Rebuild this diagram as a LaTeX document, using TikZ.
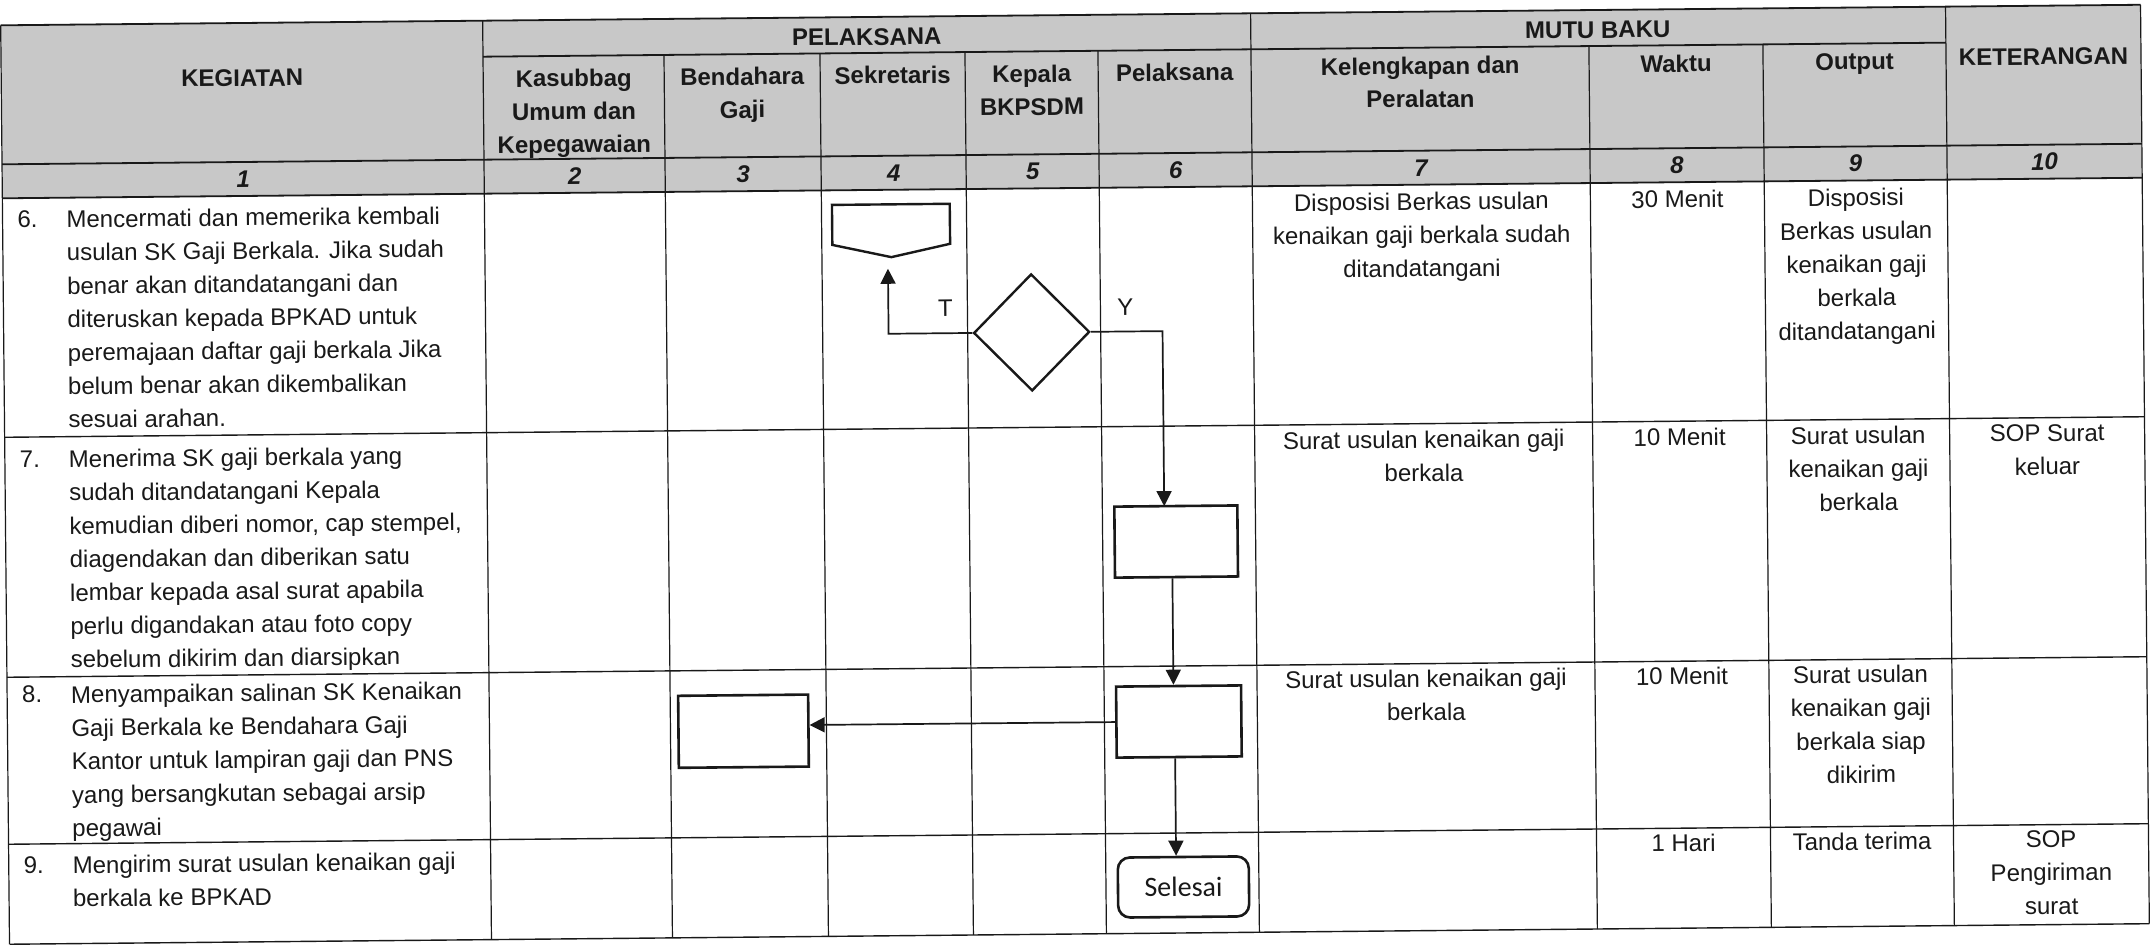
\documentclass[tikz,border=0pt]{standalone}
\usepackage{fontspec}
\setmainfont{Liberation Sans}
\newfontfamily\calib{Carlito}
\usetikzlibrary{arrows.meta,shapes.geometric,calc}
\definecolor{hdr}{RGB}{200,200,200}
\definecolor{ink}{RGB}{25,25,25}
\begin{document}
\begin{tikzpicture}[x=0.5pt,y=-0.5pt,
  hline/.style={line width=0.9pt, draw=ink},
  bline/.style={line width=0.7pt, draw=ink},
  vline/.style={line width=0.6pt, draw=ink},
  body/.style={font=\fontsize{12}{16.7}\selectfont, text=ink, inner sep=0pt, outer sep=0pt},
  lcell/.style={body, align=left, anchor=north west},
  ccell/.style={body, align=center, anchor=north},
  hcell/.style={font=\bfseries\fontsize{12}{16.5}\selectfont, text=ink, inner sep=0pt, align=center},
  numcell/.style={font=\bfseries\itshape\fontsize{12}{14}\selectfont, text=ink, inner sep=0pt},
  proc/.style={draw=ink, line width=1.3pt, fill=white, inner sep=0pt},
  flow/.style={line width=0.85pt, draw=ink, -{Triangle[width=7.5pt,length=7.5pt]}},
]
\fill[white] (0,0) rectangle (2150,948);
\useasboundingbox (0,0) rectangle (2150,948);
\begin{scope}[rotate around={0.55:(1075,474)}, transform shape]
% header background
\fill[hdr] (5,15) rectangle (2145,188);
% horizontal lines
\draw[hline] (5,15) -- (2145,15);
\draw[hline] (487,51) -- (1950,51);
\draw[hline] (5,154) -- (2145,154);
\draw[hline] (5,188) -- (2145,188);
\draw[bline] (5,427) -- (2145,427);
\draw[bline] (5,667) -- (2145,667);
\draw[bline] (5,834) -- (2145,834);
\draw[bline] (5,934) -- (2145,934);
% vertical lines
\foreach \x in {5,487,1255,1950,2145} \draw[vline] (\x,15) -- (\x,934);
\foreach \x in {668,824,969,1102,1593,1767} \draw[vline] (\x,51) -- (\x,934);

% header texts
\node[hcell] (hkeg) at (246,70) {KEGIATAN};
\node[hcell] (hpel) at (871,35) {PELAKSANA};
\node[hcell] (hmutu) at (1602,35) {MUTU BAKU};
\node[hcell, anchor=north] (hkas) at (577.5,64) {Kasubbag\\Umum dan\\Kepegawaian};
\node[hcell, anchor=north] (hben) at (746,64) {Bendahara\\Gaji};
\node[hcell, anchor=north] (hsek) at (896.5,64) {Sekretaris};
\node[hcell, anchor=north] (hkep) at (1035.5,64) {Kepala\\BKPSDM};
\node[hcell, anchor=north] (hpls) at (1178.5,64) {Pelaksana};
\node[hcell, anchor=north] (hkel) at (1424,60) {Kelengkapan dan\\Peralatan};
\node[hcell, anchor=north] (hwak) at (1680,60) {Waktu};
\node[hcell, anchor=north] (hout) at (1858.5,60) {Output};
\node[hcell] (hket) at (2047.5,66) {KETERANGAN};

% column numbers
\node[numcell] (c1) at (246,171) {1};
\node[numcell] (c2) at (577.5,171) {2};
\node[numcell] (c3) at (746,171) {3};
\node[numcell] (c4) at (896.5,171) {4};
\node[numcell] (c5) at (1035.5,171) {5};
\node[numcell] (c6) at (1178.5,171) {6};
\node[numcell] (c7) at (1424,171) {7};
\node[numcell] (c8) at (1680,171) {8};
\node[numcell] (c9) at (1858.5,171) {9};
\node[numcell] (c10) at (2047.5,171) {10};

% column 1 texts
\node[lcell] (k6n) at (20,200.5) {6.};
\node[lcell] (k6) at (69,200.5) {Mencermati dan memerika kembali\\usulan SK Gaji Berkala. Jika sudah\\benar akan ditandatangani dan\\diteruskan kepada BPKAD untuk\\peremajaan daftar gaji berkala Jika\\belum benar akan dikembalikan\\sesuai arahan.};
\node[lcell] (k7n) at (20,440.5) {7.};
\node[lcell] (k7) at (69,440.5) {Menerima SK gaji berkala yang\\sudah ditandatangani Kepala\\kemudian diberi nomor, cap stempel,\\diagendakan dan diberikan satu\\lembar kepada asal surat apabila\\perlu digandakan atau foto copy\\sebelum dikirim dan diarsipkan};
\node[lcell] (k8n) at (20,676) {8.};
\node[lcell] (k8) at (69,676) {Menyampaikan salinan SK Kenaikan\\Gaji Berkala ke Bendahara Gaji\\Kantor untuk lampiran gaji dan PNS\\yang bersangkutan sebagai arsip\\pegawai};
\node[lcell] (k9n) at (20,846.5) {9.};
\node[lcell] (k9) at (69,846.5) {Mengirim surat usulan kenaikan gaji\\berkala ke BPKAD};

% columns 7-10 texts
\node[ccell] (r6c7) at (1424,196) {Disposisi Berkas usulan\\kenaikan gaji berkala sudah\\ditandatangani};
\node[ccell] (r6c8) at (1680,196) {30 Menit};
\node[ccell] (r6c9) at (1858.5,196) {Disposisi\\Berkas usulan\\kenaikan gaji\\berkala\\ditandatangani};
\node[ccell] (r7c7) at (1424,434) {Surat usulan kenaikan gaji\\berkala};
\node[ccell] (r7c8) at (1680,434) {10 Menit};
\node[ccell] (r7c9) at (1858.5,434) {Surat usulan\\kenaikan gaji\\berkala};
\node[ccell] (r7c10) at (2047.5,434) {SOP Surat\\keluar};
\node[ccell] (r8c7) at (1424,673) {Surat usulan kenaikan gaji\\berkala};
\node[ccell] (r8c8) at (1680,673) {10 Menit};
\node[ccell] (r8c9) at (1858.5,673) {Surat usulan\\kenaikan gaji\\berkala siap\\dikirim};
\node[ccell] (r9c8) at (1680,840) {1 Hari};
\node[ccell] (r9c9) at (1858.5,840) {Tanda terima};
\node[ccell] (r9c10) at (2047.5,840) {SOP\\Pengiriman\\surat};

% flowchart symbols
\node[minimum width=58.5pt, minimum height=26pt, inner sep=0pt] (off) at (893.5,229) {};
\draw[draw=ink, line width=1.2pt, fill=white, line join=miter]
  (off.north west) -- (off.north east) -- ($(off.north east)+(0,40)$)
  -- (off.south) -- ($(off.north west)+(0,40)$) -- cycle;
\node[diamond, draw=ink, line width=1.2pt, fill=white, minimum width=58pt, minimum height=58.5pt, inner sep=0pt] (dia) at (1033,332) {};
\node[proc, minimum width=61.5pt, minimum height=35.5pt] (b7) at (1175.5,542.5) {};
\node[proc, minimum width=62.5pt, minimum height=35.5pt] (b8) at (1176.5,722.5) {};
\node[proc, minimum width=65pt, minimum height=36pt] (bb) at (741,728) {};
\node[proc, rounded corners=6pt, minimum width=65.5pt, minimum height=30pt, font=\calib\fontsize{14}{16}\selectfont, text=ink] (sel) at (1179.5,888) {Selesai};

% labels
\node[body] (tl) at (947,307) {T};
\node[body] (yl) at (1127,308) {Y};

% connectors
\coordinate (tend) at (890,267);
\coordinate (yend) at (1164,507);
\draw[flow] (dia.west) -| (tend);
\draw[flow] (dia.east) -| (yend);
\draw[flow] ([xshift=-2pt]b7.south) -- ([xshift=-2pt]b7.south |- b8.north);
\draw[flow] ([xshift=-2pt]b8.south) -- ([xshift=-2pt]b8.south |- sel.north);
\draw[flow] (b8.west) -- (b8.west -| bb.east);
\end{scope}
\end{tikzpicture}
\end{document}
